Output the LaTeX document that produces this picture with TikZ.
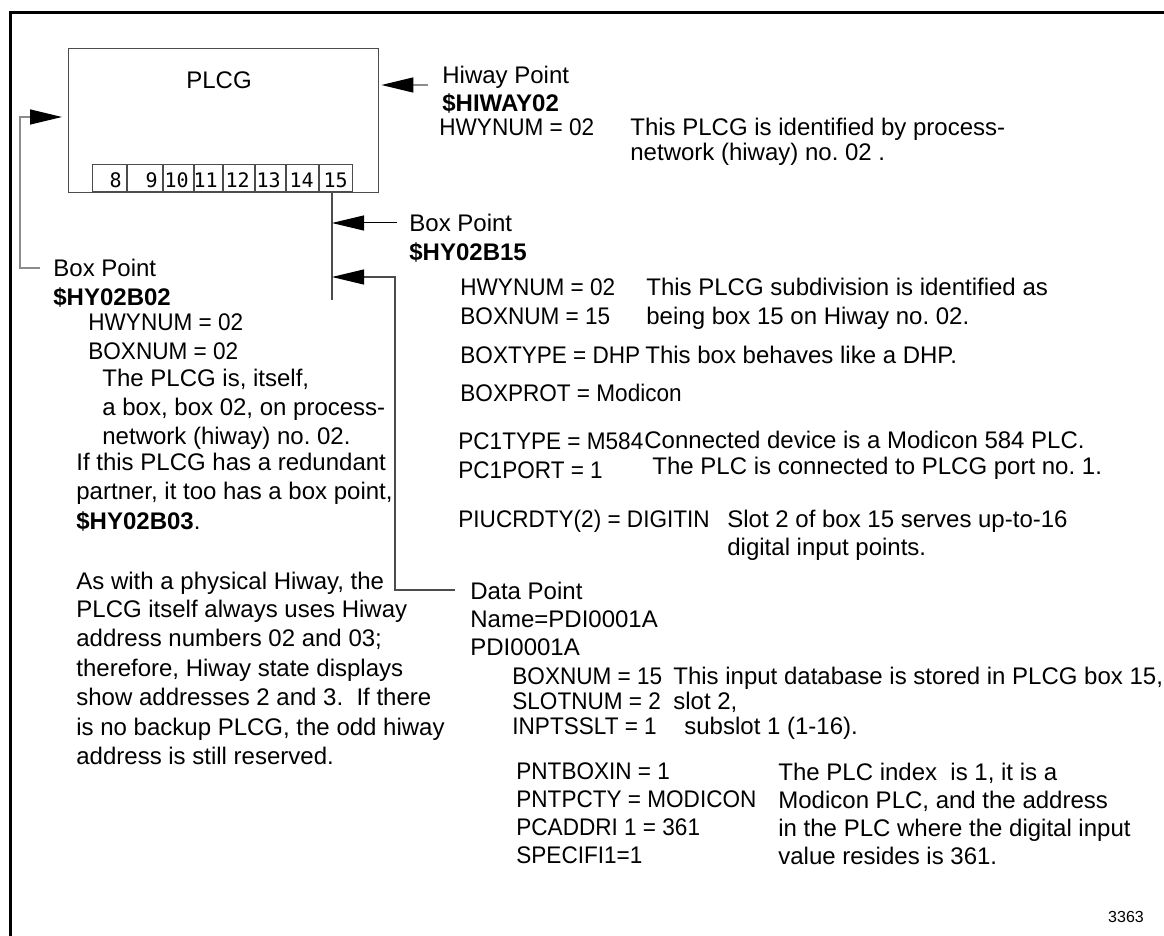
\documentclass[tikz,border=0pt]{standalone}
\usepackage{fontspec}
\setmainfont{Liberation Sans}
\newfontfamily\narrowfont[FakeStretch=0.94]{Liberation Sans}
\newfontfamily\slotfont{DejaVu Sans Mono}
\usetikzlibrary{arrows.meta}
\newcommand\myfs{\fontsize{12}{14}\selectfont}
\frenchspacing
\begin{document}
\begin{tikzpicture}[x=0.5pt,y=-0.5pt,
  txt/.style={anchor=west, inner sep=0pt, text height=8.6pt, text depth=0pt, font=\myfs},
  param/.style={txt, font=\narrowfont\myfs},
  bold/.style={txt, font=\myfs\bfseries},
  slotbox/.style={draw=black!70, line width=0.5pt, inner sep=0pt, minimum height=13.5pt, anchor=south west},
  slotnum/.style={anchor=base east, inner sep=0pt, font=\slotfont\fontsize{10}{11}\selectfont},
  tipend/.style={-{Triangle[length=16pt,width=7.5pt,color=black]}},
  gconn/.style={draw=black!45, line width=0.7pt},
  bconn/.style={draw=black, line width=0.5pt},
  dconn/.style={draw=black!70, line width=0.6pt}]
\useasboundingbox (0,0) rectangle (1164,936);
% frame
\draw[line width=1.5pt] (10,940) -- (10,13) -- (1170,13);
% PLCG box
\node[draw=black!70, line width=0.7pt, minimum width=155pt, minimum height=72pt, inner sep=0pt, anchor=north west] (plcg) at (68,48) {};
\node[inner sep=0pt, font=\myfs] (plcgT) at (219,80) {PLCG};
% slots
\foreach \l/\r/\n in {92/126/8,127/162/9,163/193/10,194/222/11,223/254/12,255/285/13,286/318/14,319/352/15}{
  \pgfmathsetmacro\w{(\r-\l)*0.5}
  \node[slotbox, minimum width=\w pt] (s\n) at (\l,192) {};
  \node[slotnum] (n\n) at (\r-4,188) {\n};
}
% Hiway point
\node[txt] (hpT) at (442,75) {Hiway Point};
\node[bold] (hpB) at (442,103) {\$HIWAY02};
\node[param] (hpN) at (439,127) {HWYNUM = 02};
\node[txt] (hpD1) at (630,127) {This PLCG is identified by process-};
\node[txt] (hpD2) at (630,152) {network (hiway) no. 02 .};
\coordinate (hwyS) at (428,85);
\path (plcg.east |- hwyS) ++(2,0) coordinate (hwyT);
\draw[gconn, tipend] (hwyS) -- (hwyT);
% Box point B02
\node[txt] (bp02) at (53,268) {Box Point};
\node[bold] (hy02) at (53,297) {\$HY02B02};
\node[param] (l1) at (88,322) {HWYNUM = 02};
\node[param] (l2) at (88,351) {BOXNUM = 02};
\node[txt] (l3) at (102,378) {The PLCG is, itself,};
\node[txt] (l4) at (102,407) {a box, box 02, on process-};
\node[txt] (l5) at (102,436) {network (hiway) no. 02.};
\node[txt] (l6) at (76,462) {If this PLCG has a redundant};
\node[txt] (l7) at (76,491) {partner, it too has a box point,};
\node[txt] (l8) at (76,521) {{\bfseries \$HY02B03}.};
\node[txt] (l9) at (76,581) {As with a physical Hiway, the};
\node[txt] (l10) at (76,609) {PLCG itself always uses Hiway};
\node[txt] (l11) at (76,638) {address numbers 02 and 03;};
\node[txt] (l12) at (76,668) {therefore, Hiway state displays};
\node[txt] (l13) at (76,697) {show addresses 2 and 3.\ \ If there};
\node[txt] (l14) at (76,727) {is no backup PLCG, the odd hiway};
\node[txt] (l15) at (76,756) {address is still reserved.};
\coordinate (b02a) at (40,268);
\coordinate (b02b) at (20,268);
\coordinate (b02c) at (20,117);
\path (plcg.west |- b02c) ++(-6,0) coordinate (b02t);
\draw[gconn, tipend] (b02a) -- (b02b) -- (b02c) -- (b02t);
% slot 15 line
\coordinate (s15top) at (332,192);
\coordinate (s15bot) at (332,300);
\draw[dconn] (s15top) -- (s15bot);
% Box point B15
\node[txt] (bp15) at (409,223) {Box Point};
\node[bold] (hy15) at (409,252) {\$HY02B15};
\coordinate (b15s) at (397,223);
\path (s15top |- b15s) coordinate (b15t);
\draw[bconn, tipend] (b15s) -- (b15t);
\node[param] (r1) at (460,287) {HWYNUM = 02};
\node[txt] (r1d) at (646,287) {This PLCG subdivision is identified as};
\node[param] (r2) at (460,316) {BOXNUM = 15};
\node[txt] (r2d) at (646,316) {being box 15 on Hiway no. 02.};
\node[param] (r3) at (460,355) {BOXTYPE = DHP};
\node[txt] (r3d) at (645,355) {This box behaves like a DHP.};
\node[param] (r4) at (460,393) {BOXPROT = Modicon};
\node[param] (r5) at (458,441) {PC1TYPE = M584};
\node[txt] (r5d) at (644,440) {Connected device is a Modicon 584 PLC.};
\node[param] (r6) at (458,470) {PC1PORT = 1};
\node[txt] (r6d) at (652,466) {The PLC is connected to PLCG port no. 1.};
\node[param] (r7) at (458,519) {PIUCRDTY(2) = DIGITIN};
\node[txt] (r7d) at (727,519) {Slot 2 of box 15 serves up-to-16};
\node[txt] (r8d) at (727,547) {digital input points.};
% Data point
\node[txt] (dpT) at (470,591) {Data Point};
\node[txt] (dpN) at (470,619) {Name=PDI0001A};
\node[txt] (dpP) at (470,647) {PDI0001A};
\node[param] (d1) at (512,676) {BOXNUM = 15};
\node[txt] (d1d) at (673,676) {This input database is stored in PLCG box 15,};
\node[param] (d2) at (512,701) {SLOTNUM = 2};
\node[txt] (d2d) at (673,701) {slot 2,};
\node[param] (d3) at (512,726) {INPTSSLT = 1};
\node[txt] (d3d) at (684,726) {subslot 1 (1-16).};
\node[param] (d4) at (516,771) {PNTBOXIN = 1};
\node[txt] (d4d) at (778,772) {The PLC index\ \ is 1, it is a};
\node[param] (d5) at (516,799) {PNTPCTY = MODICON};
\node[txt] (d5d) at (778,800) {Modicon PLC, and the address};
\node[param] (d6) at (516,827) {PCADDRI 1 = 361};
\node[txt] (d6d) at (778,828) {in the PLC where the digital input};
\node[param] (d7) at (516,855) {SPECIFI1=1};
\node[txt] (d7d) at (778,856) {value resides is 361.};
\coordinate (dpa) at (455,590);
\coordinate (dpb) at (395,590);
\coordinate (dpc) at (395,277);
\path (s15top |- dpc) coordinate (dpt);
\draw[dconn, tipend] (dpa) -- (dpb) -- (dpc) -- (dpt);
% figure number
\node[inner sep=0pt, font=\fontsize{8}{9}\selectfont] (fig) at (1126,917) {3363};
\end{tikzpicture}
\end{document}
